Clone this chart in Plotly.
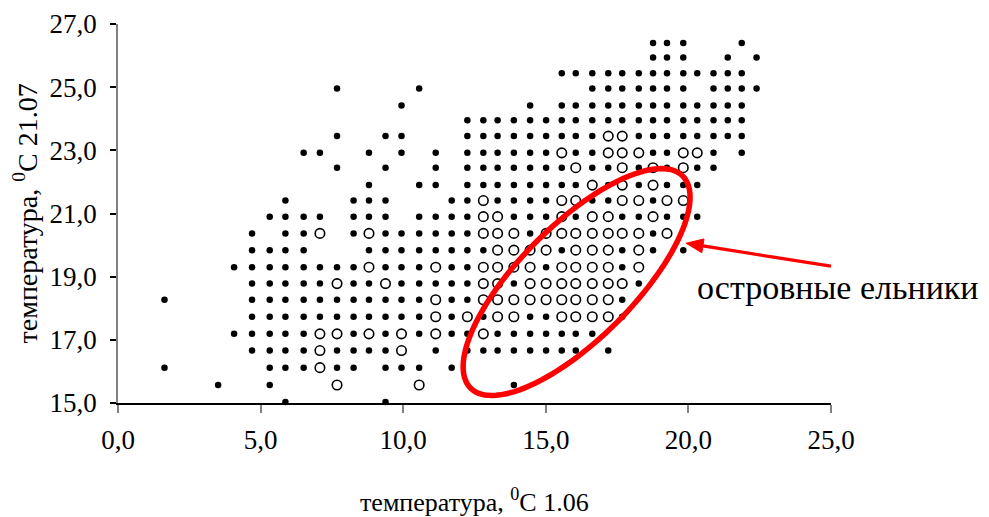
import math
import plotly.graph_objects as go

# grid of x values (temperature 1.06) and y values (temperature 21.07)
x_grid = [1.63, 3.51, 4.07, 4.70, 5.32, 5.87, 6.51, 7.08, 7.68, 8.26,
          8.80, 9.38, 9.94, 10.56, 11.14, 11.70, 12.25, 12.81, 13.31, 13.88,
          14.45, 15.01, 15.56, 16.05, 16.63, 17.19, 17.68, 18.26, 18.76, 19.25,
          19.82, 20.31, 20.88, 21.38, 21.87, 22.39]
y_grid = [15.03, 15.57, 16.12, 16.66, 17.19, 17.73, 18.27, 18.78, 19.30, 19.84,
          20.37, 20.90, 21.41, 21.90, 22.45, 22.92, 23.45, 23.95, 24.42, 24.96,
          25.44, 25.94, 26.40]

# one string per y row; '*' = filled point, 'o' = open point (island spruce forests), '.' = none
rows = [
    ".....*...." ".*........" ".........." "......",
    ".*..*...o." "...o.....*" ".........." "......",
    "*...***o**" ".***.*...." ".........." "......",
    "...****o**" "**o.*.****" "****.*...." "......",
    "..*****oo*" "o*o*o**o**" "*****....." "......",
    "...*******" "****o*o*oo" "**oooo*..." "......",
    "*..*******" "****o**ooo" "oooooo*..." "......",
    "...*****o*" "*o*****oo*" "ooooooo*.." "......",
    "..********" "o***o**ooo" "o*oooo*o.." "......",
    "...****..." "********oo" "oo*ooo*o*." "*.....",
    "...*.**o.*" "o******ooo" "*ooooooo*o" "......",
    "....****.*" "**.****oo*" "**o*oo**o*" "**....",
    ".....*...*" "**...**o**" "**oo**oo*o" "o.....",
    ".........." "*..**.****" "****o*o*o*" "**....",
    "........*." ".*..*.****" "***o**o*o*" "o**...",
    "......**.." "*.*.*.****" "**o**ooo**" "oo*.*.",
    "........*." ".**...****" "*****oo***" "*****.",
    ".........." "......****" "**********" "*****.",
    ".........." "..*......." "*.********" "*****.",
    "........*." "...*......" "....******" "*.****",
    ".........." ".........." "..********" "*****.",
    ".........." ".........." "........**" "*..*.*",
    ".........." ".........." "........**" "*...*.",
]

y_ticks = [15, 17, 19, 21, 23, 25, 27]
x_ticks = [0, 5, 10, 15, 20, 25]
label_text = "островные ельники"
x_title = "температура, <sup>0</sup>C 1.06"
y_title = "температура, <sup>0</sup>C 21.07"

fx, fy, ox, oy = [], [], [], []
for yi, row in enumerate(rows):
    for xi, ch in enumerate(row):
        if ch == "*":
            fx.append(x_grid[xi]); fy.append(y_grid[yi])
        elif ch == "o":
            ox.append(x_grid[xi]); oy.append(y_grid[yi])

W, H = 989, 517
ML, MR, MT, MB = 110, 166, 16, 122
pw, ph = W - ML - MR, H - MT - MB
sx, sy = pw / 25.0, ph / 12.0  # px per unit

fig = go.Figure()
fig.add_trace(go.Scatter(x=fx, y=fy, mode="markers",
                         marker=dict(symbol="circle", size=6.5, color="black"),
                         showlegend=False, cliponaxis=False))
fig.add_trace(go.Scatter(x=ox, y=oy, mode="markers",
                         marker=dict(symbol="circle-open", size=9.5, color="black",
                                     line=dict(width=1.6, color="black")),
                         showlegend=False, cliponaxis=False))

# red ellipse annotation
cx, cy = 16.08, 18.83
a_px, b_px, ang = 150.0, 57.0, math.radians(45)
pts = []
for k in range(121):
    t = 2 * math.pi * k / 120
    dx = a_px * math.cos(t) * math.cos(ang) - b_px * math.sin(t) * math.sin(ang)
    dy = a_px * math.cos(t) * math.sin(ang) + b_px * math.sin(t) * math.cos(ang)
    pts.append((cx + dx / sx, cy + dy / sy))
path = "M " + " L ".join(f"{px:.4f},{py:.4f}" for px, py in pts) + " Z"
fig.add_shape(type="path", path=path, xref="x", yref="y",
              line=dict(color="#FF0000", width=5.5))

# red arrow (line + filled head)
tip_x, tip_y = 19.92, 20.06
tail_x, tail_y = 25.0, 19.33
vx, vy = (tip_x - tail_x) * sx, (tip_y - tail_y) * sy
L = math.hypot(vx, vy)
ux, uy = vx / L, vy / L
head_len, head_half = 17.0, 7.0
bx, by = tip_x - ux * head_len / sx, tip_y - uy * head_len / sy
p1 = (bx - uy * head_half / sx, by + ux * head_half / sy)
p2 = (bx + uy * head_half / sx, by - ux * head_half / sy)
fig.add_shape(type="line", x0=tail_x, y0=tail_y, x1=bx, y1=by, xref="x", yref="y",
              line=dict(color="#FF0000", width=3.2))
fig.add_shape(type="path", xref="x", yref="y",
              path=f"M {tip_x},{tip_y} L {p1[0]:.4f},{p1[1]:.4f} L {p2[0]:.4f},{p2[1]:.4f} Z",
              fillcolor="#FF0000", line=dict(color="#FF0000", width=1))

fig.add_annotation(x=20.22, y=18.66, xref="x", yref="y", text=label_text,
                   showarrow=False, xanchor="left", yanchor="middle",
                   font=dict(family="Liberation Serif", size=34, color="black"))

# axis titles
fig.add_annotation(x=0.5, y=-(97.0 / ph), xref="paper", yref="paper", text=x_title,
                   showarrow=False, xanchor="center", yanchor="middle",
                   font=dict(family="Liberation Serif", size=26, color="black"))
fig.add_annotation(x=-(92.0 / pw), y=0.5, xref="paper", yref="paper", text=y_title,
                   showarrow=False, xanchor="center", yanchor="middle", textangle=-90,
                   font=dict(family="Liberation Serif", size=28, color="black"))

fig.update_layout(
    width=W, height=H,
    margin=dict(l=ML, r=MR, t=MT, b=MB, autoexpand=False),
    paper_bgcolor="white", plot_bgcolor="white",
    separators=", ",
    font=dict(family="Liberation Serif", size=27, color="black"),
    xaxis=dict(range=[0, 25], tickvals=x_ticks, tickformat=".1f", automargin=False,
               showgrid=False, zeroline=False, showline=True,
               linecolor="black", linewidth=1.5, ticks="outside", ticklen=8,
               tickcolor="#808080", tickwidth=1.5, ticklabelstandoff=4),
    yaxis=dict(range=[15, 27], tickvals=y_ticks, tickformat=".1f", automargin=False,
               showgrid=False, zeroline=False, showline=True,
               linecolor="#808080", linewidth=1.5, ticks="outside", ticklen=6,
               tickcolor="black", tickwidth=1.5, ticklabelstandoff=8),
)

fig.write_html("out.html")
